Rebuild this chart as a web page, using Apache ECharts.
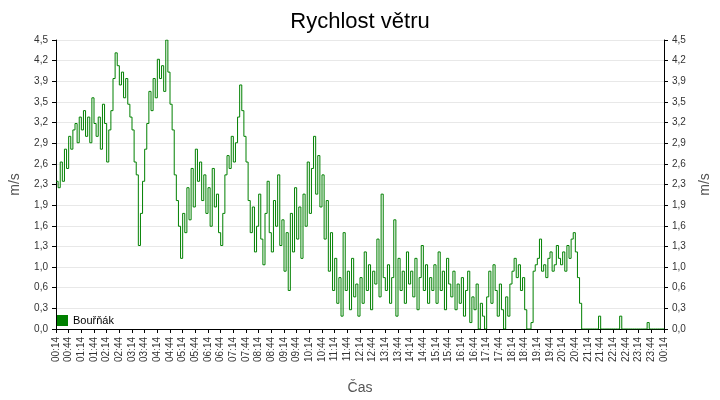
<!DOCTYPE html><html><head><meta charset="utf-8"><script src="https://cdn.jsdelivr.net/npm/echarts@6/dist/echarts.min.js"></script></head><body style="margin:0"><div id="c" style="width:720px;height:400px"></div><script>
const seriesName='Bouřňák';
const yMax=4.5, ySteps=14;
const wind=[
2.3,2.2,2.6,2.3,2.8,2.5,3.0,2.8,3.1,3.2,2.9,3.3,
3.1,3.4,3.0,3.3,2.9,3.6,3.2,3.0,3.3,2.8,3.5,3.2,
2.6,3.1,3.4,3.9,4.3,4.1,3.8,4.0,3.6,3.9,3.5,3.3,
3.1,2.6,2.4,1.3,1.8,2.3,2.8,3.2,3.7,3.4,3.9,3.6,
4.2,3.9,4.1,3.7,4.5,4.0,3.5,3.1,2.4,2.0,1.6,1.1,
1.8,1.5,2.2,1.7,2.5,1.9,2.8,2.3,2.6,2.0,2.4,1.8,
2.2,1.6,2.5,1.9,2.1,1.5,1.3,1.8,2.4,2.7,2.5,3.0,
2.6,2.9,3.3,3.8,3.4,3.0,2.6,2.0,1.5,1.9,1.2,1.6,
2.1,1.4,1.0,1.8,2.3,1.5,1.2,2.0,1.6,2.4,1.3,1.7,
0.9,1.5,0.6,1.8,1.2,2.2,1.4,1.9,1.1,2.1,1.6,2.6,
1.8,2.5,3.0,2.1,2.7,1.9,2.4,1.4,2.0,0.9,1.5,0.6,
1.1,0.4,0.8,0.2,1.5,0.6,0.9,0.3,1.1,0.5,0.7,0.2,
0.8,0.4,1.2,0.6,1.0,0.3,0.9,0.7,1.4,0.5,2.1,0.8,
0.6,1.0,0.4,0.8,1.7,0.2,1.1,0.6,0.9,0.4,1.2,0.7,
0.9,0.5,1.1,0.3,0.8,1.3,0.6,1.0,0.4,0.8,0.6,1.0,
0.4,1.2,0.6,0.9,0.3,1.1,0.7,0.5,0.9,0.3,0.7,0.4,
0.8,0.2,0.6,0.9,0.1,0.5,0.3,0.7,0.0,0.4,0.2,0.0,
0.5,0.9,0.4,1.0,0.6,0.2,0.7,0.3,0.0,0.5,0.2,0.7,
0.9,1.1,0.8,1.0,0.6,0.8,0.3,0.0,0.0,0.1,0.9,1.0,
1.1,1.4,0.9,1.0,0.8,1.1,1.2,0.9,1.0,1.3,1.1,1.0,
1.2,0.9,1.3,1.1,1.4,1.5,1.2,0.8,0.4,0.0,0.0,0.0,
0,0,0,0,0,0.2,0,0,0,0,0,0,
0,0,0,0.2,0,0,0,0,0,0,0,0,
0,0,0,0,0.1,0,0,0,0,0,0,0,
0];
const times=[];
for(let i=0;i<wind.length;i++){const m=(14+i*5)%1440;times.push(String(Math.floor(m/60)).padStart(2,'0')+':'+String(m%60).padStart(2,'0'));}
const fmt=v=>v.toFixed(1).replace('.',',');
const yAx=pos=>({type:'value',position:pos,min:0,max:yMax,interval:yMax/ySteps,name:'m/s',nameLocation:'middle',nameGap:34,nameTextStyle:{fontSize:14,color:'#555'},
 axisLine:{show:true,lineStyle:{color:'#000'}},axisTick:{show:true,length:4,lineStyle:{color:'#000'}},
 axisLabel:{formatter:fmt,fontSize:10,color:'#333',fontFamily:'Liberation Sans'},splitLine:{show:pos==='left',lineStyle:{color:'#e8e8e8'}}});
const chart=echarts.init(document.getElementById('c'));
chart.setOption({animation:false,
 title:{text:'Rychlost větru',left:'center',top:6,textStyle:{fontSize:22,fontWeight:'normal',color:'#000',fontFamily:'Liberation Sans'}},
 legend:{left:52,top:310,itemWidth:11,itemHeight:11,icon:'rect',textStyle:{fontSize:11,color:'#000'},data:[seriesName]},
 grid:{left:48,right:48,top:40,bottom:70},
 xAxis:{type:'category',data:times,boundaryGap:false,name:'Čas',nameLocation:'middle',nameGap:52,nameTextStyle:{fontSize:14,color:'#555'},
  axisLine:{lineStyle:{color:'#000'}},axisTick:{interval:5,length:4,lineStyle:{color:'#000'}},
  axisLabel:{interval:5,rotate:90,fontSize:10,color:'#333',fontFamily:'Liberation Sans'},splitLine:{show:false}},
 yAxis:[yAx('left'),yAx('right')],
 series:[{name:seriesName,type:'line',step:'end',data:wind,showSymbol:false,lineStyle:{color:'#008000',width:1},itemStyle:{color:'#008000'}}]
});
</script></body></html>
